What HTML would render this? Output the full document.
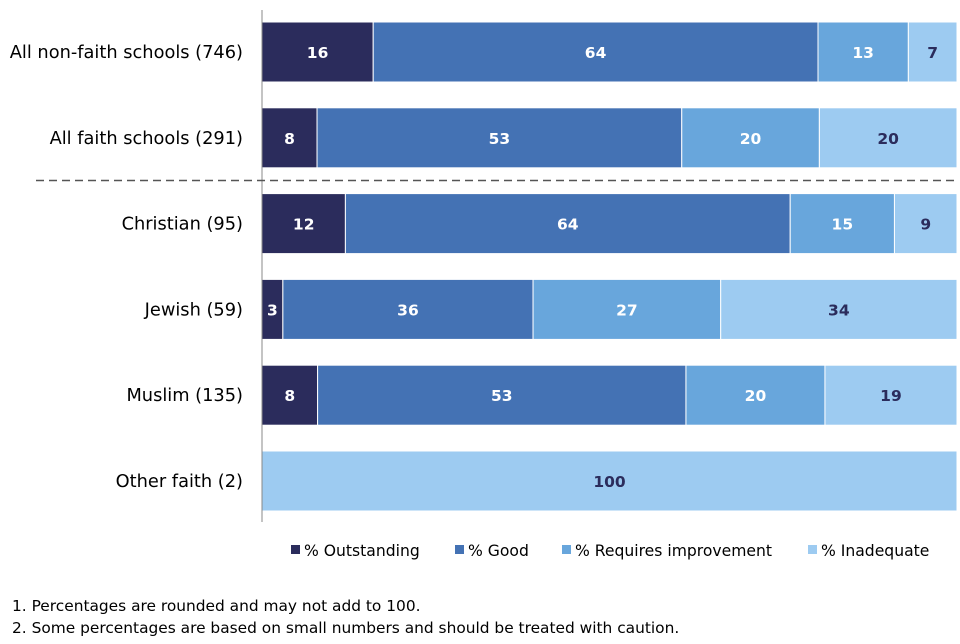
<!DOCTYPE html>
<html><head><meta charset="utf-8"><style>
body{margin:0;background:#fff;width:960px;height:640px;overflow:hidden;font-family:"DejaVu Sans",Verdana,sans-serif}
</style></head><body>
<svg id="chart" width="960" height="640" xmlns="http://www.w3.org/2000/svg" font-family="DejaVu Sans, Verdana, sans-serif"></svg>
<script>
const categories=["All non-faith schools (746)","All faith schools (291)","Christian (95)","Jewish (59)","Muslim (135)","Other faith (2)"];
const outstanding=[16,8,12,3,8,0];
const good=[64,53,64,36,53,0];
const requiresImprovement=[13,20,15,27,20,0];
const inadequate=[7,20,9,34,19,100];
const seriesNames=["% Outstanding","% Good","% Requires improvement","% Inadequate"];
const colors=["#2b2c5c","#4472b4","#68a6dc","#9dcbf1"];
const textColors=["#fff","#fff","#fff","#2b2c5c"];
const svg=document.getElementById('chart');
const NS="http://www.w3.org/2000/svg";
const x0=262,x1=957,top0=22,step=85.8,bh=60;
function xs(v){return x0+v*(x1-x0)/100;}
function yb(i){return top0+i*step;}
function mk(t,a,txt){const e=document.createElementNS(NS,t);for(const k in a)e.setAttribute(k,a[k]);if(txt!=null)e.textContent=txt;svg.appendChild(e);return e;}
const series=[outstanding,good,requiresImprovement,inadequate];
categories.forEach((c,i)=>{
  const lab=mk('text',{x:243,y:yb(i)+bh/2+6,'text-anchor':'end','font-size':17.8,fill:'#000'},c);
  
  
  const total=series.reduce((s,a)=>s+a[i],0);
  let cum=0;
  series.forEach((arr,j)=>{
    const v=arr[i];if(!v)return;
    const a=xs(cum/total*100),b=xs((cum+v)/total*100);cum+=v;
    const r=mk('rect',{x:a,y:yb(i),width:b-a,height:bh,fill:colors[j],stroke:'#fff','stroke-width':1});
    
    
    const t=mk('text',{x:(a+b)/2,y:yb(i)+bh/2+6,'text-anchor':'middle','font-size':15.5,'font-weight':'bold',fill:textColors[j]},v);
    
    
  });
});
const ax=mk('line',{x1:x0,y1:10,x2:x0,y2:522,stroke:'#888','stroke-width':1});


const dl=mk('line',{x1:36,y1:180.5,x2:957,y2:180.5,stroke:'#555','stroke-width':1.5,'stroke-dasharray':'8,5'});


const lx=[291,455,562,808];
seriesNames.forEach((n,j)=>{
  const g=document.createElementNS(NS,'g');svg.appendChild(g);
  
  
  const r=document.createElementNS(NS,'rect');r.setAttribute('x',lx[j]);r.setAttribute('y',545);r.setAttribute('width',9);r.setAttribute('height',9);r.setAttribute('fill',colors[j]);g.appendChild(r);
  const t=document.createElementNS(NS,'text');t.setAttribute('x',lx[j]+13);t.setAttribute('y',556);t.setAttribute('font-size',15.6);t.textContent=n;g.appendChild(t);
});
const f1=mk('text',{x:12,y:611,'font-size':15.4},"1. Percentages are rounded and may not add to 100.");


const f2=mk('text',{x:12,y:633,'font-size':15.4},"2. Some percentages are based on small numbers and should be treated with caution.");


</script>
</body></html>
